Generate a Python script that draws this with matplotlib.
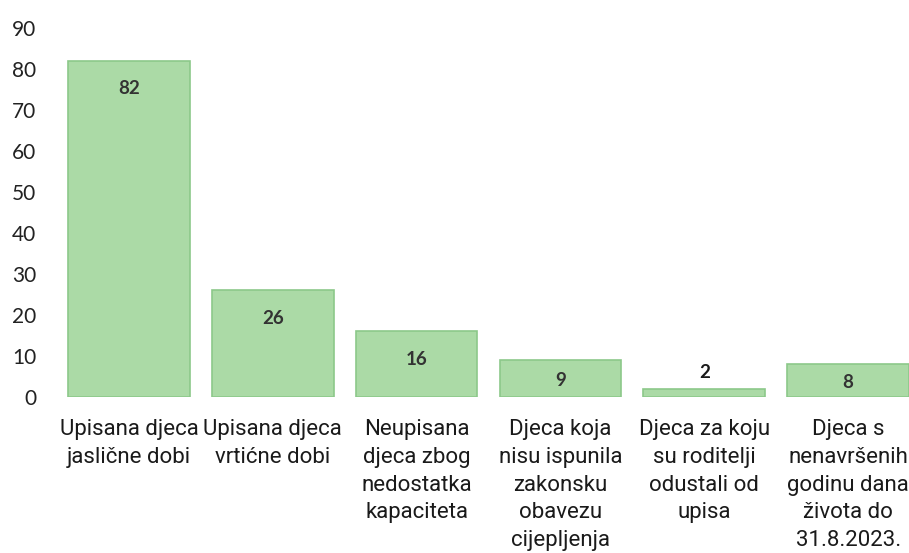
import matplotlib
matplotlib.use("Agg")
import matplotlib.pyplot as plt

categories = [
    "Upisana djeca\njaslične dobi",
    "Upisana djeca\nvrtićne dobi",
    "Neupisana\ndjeca zbog\nnedostatka\nkapaciteta",
    "Djeca koja\nnisu ispunila\nzakonsku\nobavezu\ncijepljenja",
    "Djeca za koju\nsu roditelji\nodustali od\nupisa",
    "Djeca s\nnenavršenih\ngodinu dana\nživota do\n31.8.2023.",
]
values = [82, 26, 16, 9, 2, 8]
yticks = [0, 10, 20, 30, 40, 50, 60, 70, 80, 90]

fig = plt.figure(figsize=(9.09, 5.53), dpi=100)
ax = fig.add_axes([57 / 909, 156 / 553, 863 / 909, 369 / 553])

x = list(range(len(values)))
ax.bar(x, values, width=0.845, color="#abdaa6", edgecolor="#8cc88a", linewidth=1.2)

ax.set_xlim(-0.5, len(values) - 0.5)
ax.set_ylim(0, 90)
ax.set_yticks(yticks)
ax.set_yticklabels([str(t) for t in yticks], fontsize=15, color="#222222", family="Lato")
ax.tick_params(axis="y", length=0, pad=15)
ax.tick_params(axis="x", length=0, pad=16)
ax.set_xticks(x)
ax.set_xticklabels(categories, fontsize=16, color="#1a1a1a", family="Roboto",
                   linespacing=1.42)
for s in ax.spines.values():
    s.set_visible(False)

for i, v in enumerate(values):
    if v >= 12:
        ax.annotate(str(v), xy=(i, v), xytext=(0, -20), textcoords="offset points",
                    ha="center", va="center", fontsize=13.5, fontweight="bold",
                    color="#333333", family="Lato")
    elif v >= 5:
        ax.annotate(str(v), xy=(i, v / 2), xytext=(0, -1.5), textcoords="offset points",
                    ha="center", va="center", fontsize=13.5, fontweight="bold",
                    color="#333333", family="Lato")
    else:
        ax.annotate(str(v), xy=(i, v), xytext=(0, 12), textcoords="offset points",
                    ha="center", va="center", fontsize=13.5, fontweight="bold",
                    color="#1a1a1a", family="Lato")

fig.savefig("out.png", dpi=100)
